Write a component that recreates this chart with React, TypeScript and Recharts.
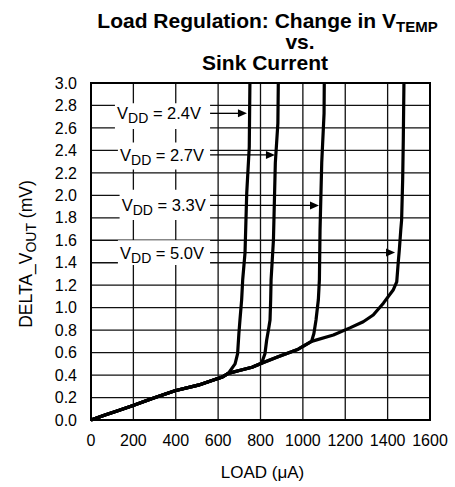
import React from "react";
import {
  LineChart,
  Line,
  XAxis,
  YAxis,
  CartesianGrid,
  ReferenceArea,
  ReferenceLine,
  ReferenceDot,
} from "recharts";

// ---- data ----
const xTicks = [0, 200, 400, 600, 800, 1000, 1200, 1400, 1600];
const yTicks = [0, 0.2, 0.4, 0.6, 0.8, 1.0, 1.2, 1.4, 1.6, 1.8, 2.0, 2.2, 2.4, 2.6, 2.8, 3.0];

// common trunk (all supplies overlap here)
const trunkLoad = [0, 66, 130, 192, 286, 396, 506, 585, 617, 648, 700, 760, 805, 880, 978, 1041, 1144, 1222, 1285, 1332, 1380, 1427, 1443];
const trunkDelta = [0, 0.045, 0.085, 0.125, 0.19, 0.26, 0.31, 0.36, 0.38, 0.415, 0.44, 0.47, 0.505, 0.56, 0.63, 0.7, 0.757, 0.82, 0.875, 0.935, 1.04, 1.16, 1.23];

// branches leaving the trunk
const vdd24Split = 648;
const vdd24Load = [680, 692, 698, 703, 711, 716, 727, 735, 747, 750];
const vdd24Delta = [0.5, 0.59, 0.77, 0.89, 1.07, 1.25, 1.49, 2.02, 2.43, 3.0];

const vdd27Split = 805;
const vdd27Load = [821, 829, 840, 845, 848, 850, 861, 870, 882, 884];
const vdd27Delta = [0.59, 0.71, 0.83, 0.89, 1.07, 1.25, 1.6, 2.29, 2.64, 3.0];

const vdd33Split = 1041;
const vdd33Load = [1052, 1062, 1073, 1078, 1081, 1089, 1100, 1101];
const vdd33Delta = [0.77, 0.89, 1.07, 1.25, 1.69, 2.29, 2.73, 3.0];

const vdd50Split = 1443;
const vdd50Load = [1450, 1455, 1462, 1466, 1471, 1474, 1477];
const vdd50Delta = [1.4, 1.51, 1.69, 1.78, 2.14, 2.5, 3.0];

// annotations
const labelNames = ["2.4V", "2.7V", "3.3V", "5.0V"];
const labelY = [2.73, 2.36, 1.91, 1.49];
const labelLeft = [123, 137, 145, 137];
const boxBottom = [2.59, 2.23, 1.78, 1.38];
const boxTop = [2.82, 2.47, 2.05, 1.6];
const arrowStart = 562;
const arrowTip = [736, 868, 1076, 1435];

function buildSeries(split: number, bl: number[], bd: number[]) {
  const pts: { x: number; y: number }[] = [];
  trunkLoad.forEach((x, i) => {
    if (x <= split) pts.push({ x, y: trunkDelta[i] });
  });
  bl.forEach((x, i) => pts.push({ x, y: bd[i] }));
  return pts;
}

const series = [
  buildSeries(vdd24Split, vdd24Load, vdd24Delta),
  buildSeries(vdd27Split, vdd27Load, vdd27Delta),
  buildSeries(vdd33Split, vdd33Load, vdd33Delta),
  buildSeries(vdd50Split, vdd50Load, vdd50Delta),
];

const FONT = "'Liberation Sans', Arial, Helvetica, sans-serif";

const Arrow = (p: any) => {
  const { x1, y1, x2, y2 } = p;
  const head = 9;
  return (
    <g>
      <line x1={x1} y1={y1} x2={x2 - head + 1} y2={y2} stroke="#000" strokeWidth={1.3} />
      <polygon points={`${x2},${y2} ${x2 - head},${y2 - 4} ${x2 - head},${y2 + 4}`} fill="#000" />
    </g>
  );
};

const makeLabel = (name: string) => (p: any) => (
  <text x={p.cx} y={p.cy} dy="0.36em" fontSize={16.5} fontFamily={FONT} fill="#000">
    V
    <tspan fontSize={14} dy={4}>DD</tspan>
    <tspan dy={-4}>{` = ${name}`}</tspan>
  </text>
);

export default function App() {
  return (
    <div style={{ position: "absolute", left: 0, top: 0, width: 455, height: 487, background: "#fff" }}>
      <LineChart
        width={455}
        height={487}
        margin={{ top: 83, right: 25, bottom: 37, left: 31 }}
      >
        <CartesianGrid stroke="#111" strokeWidth={1.3} />
        <XAxis
          dataKey="x"
          type="number"
          domain={[0, 1600]}
          ticks={xTicks}
          interval={0}
          height={30}
          axisLine={false}
          tickLine={false}
          tickSize={0}
          tickMargin={15}
          tick={{ fontSize: 16, fill: "#000", fontFamily: FONT }}
          allowDuplicatedCategory={false}
        />
        <YAxis
          type="number"
          domain={[0, 3]}
          ticks={yTicks}
          interval={0}
          width={60}
          axisLine={false}
          tickLine={false}
          tickSize={0}
          tickMargin={14}
          tickFormatter={(v: number) => v.toFixed(1)}
          tick={{ fontSize: 16, fill: "#000", fontFamily: FONT }}
        />
        {labelNames.map((n, i) => (
          <ReferenceArea
            key={"box" + n}
            x1={labelLeft[i] - 10}
            x2={arrowStart}
            y1={boxBottom[i]}
            y2={boxTop[i]}
            fill="#fff"
            fillOpacity={1}
            stroke="none"
          />
        ))}
        <ReferenceArea x1={0} x2={1600} y1={0} y2={3} fill="none" stroke="#000" strokeWidth={2} />
        {series.map((d, i) => (
          <Line
            key={"s" + i}
            data={d}
            dataKey="y"
            type="linear"
            stroke="#000"
            strokeWidth={3.2}
            strokeLinejoin="round"
            dot={false}
            activeDot={false}
            isAnimationActive={false}
          />
        ))}
        {labelNames.map((n, i) => (
          <ReferenceLine
            key={"arr" + n}
            segment={[
              { x: arrowStart, y: labelY[i] },
              { x: arrowTip[i], y: labelY[i] },
            ]}
            shape={Arrow}
          />
        ))}
        {labelNames.map((n, i) => (
          <ReferenceDot
            key={"lbl" + n}
            x={labelLeft[i]}
            y={labelY[i]}
            r={1}
            shape={makeLabel(n)}
          />
        ))}
      </LineChart>
      <svg
        width={455}
        height={487}
        style={{ position: "absolute", left: 0, top: 0, pointerEvents: "none" }}
      >
        <g fontFamily={FONT} fill="#000">
          <text x={267.5} y={28} textAnchor="middle" fontSize={21} fontWeight="bold">
            Load Regulation: Change in V
            <tspan fontSize={15} dy={4}>TEMP</tspan>
          </text>
          <text x={300} y={49} textAnchor="middle" fontSize={21} fontWeight="bold">
            vs.
          </text>
          <text x={265} y={70} textAnchor="middle" fontSize={21} fontWeight="bold">
            Sink Current
          </text>
          <text x={262.5} y={478} textAnchor="middle" fontSize={17}>
            LOAD (μA)
          </text>
          <text
            x={31.5}
            y={254}
            textAnchor="middle"
            fontSize={17.5}
            transform="rotate(-90, 31.5, 254)"
          >
            DELTA_V
            <tspan fontSize={14} dy={4}>OUT</tspan>
            <tspan dy={-4}> (mV)</tspan>
          </text>
        </g>
      </svg>
    </div>
  );
}
